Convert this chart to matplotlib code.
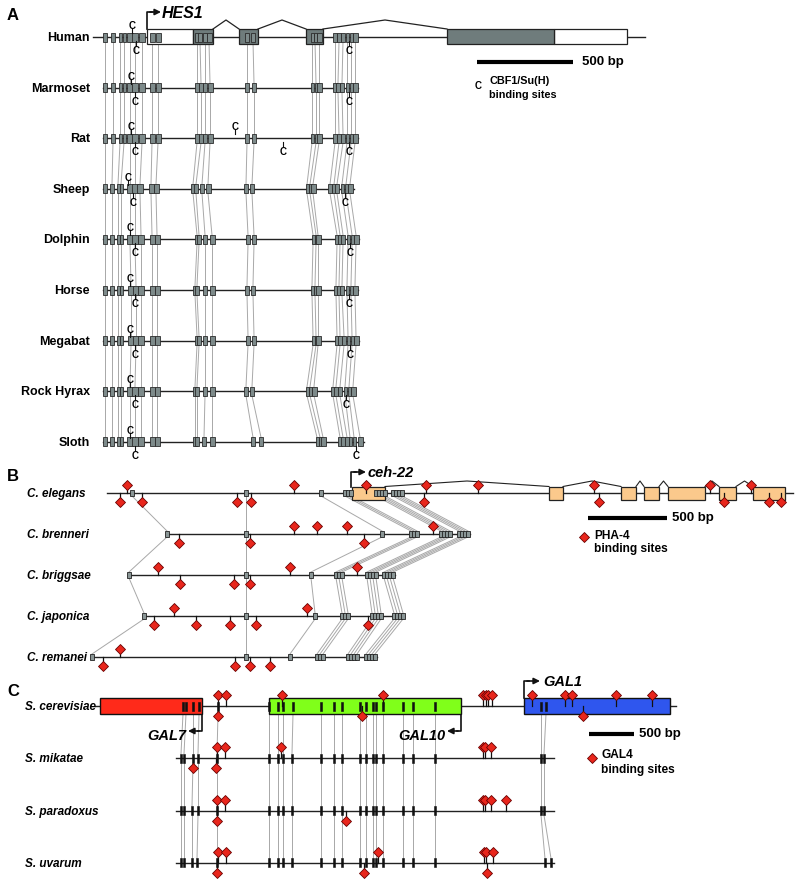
import matplotlib
matplotlib.use('Agg')
import matplotlib.pyplot as plt
from matplotlib.patches import Rectangle

plt.rcParams['font.family'] = ['Liberation Sans', 'DejaVu Sans']

# ---------------- Panel A: HES1 (x in figure units) ----------------
a_species = ['Human', 'Marmoset', 'Rat', 'Sheep', 'Dolphin', 'Horse',
             'Megabat', 'Rock Hyrax', 'Sloth']
a_elements = [
    [105, 113, 120, 124, 130, 135, 142, 152, 158, 197, 200, 205, 209, 247, 253, 312, 315, 319, 335, 339, 343, 347, 351, 355],
    [105, 113, 120, 124, 130, 135, 142, 152, 158, 197, 201, 205, 210, 247, 254, 312, 316, 319, 335, 338, 342, 347, 351, 355],
    [105, 113, 120, 124, 130, 135, 142, 152, 158, 197, 201, 205, 210, 247, 254, 312, 316, 319, 335, 339, 343, 347, 351, 355],
    [105, 112, 118, 121, 130, 135, 140, 151, 156, 193, 196, 202, 208, 246, 252, 307, 310, 313, 330, 334, 337, 342, 346, 350],
    [105, 112, 118, 121, 130, 135, 141, 152, 157, 197, 199, 205, 212, 248, 254, 313, 316, 318, 337, 340, 343, 348, 352, 356],
    [105, 112, 118, 121, 131, 136, 141, 152, 157, 195, 197, 205, 212, 247, 253, 312, 315, 318, 336, 339, 342, 347, 351, 355],
    [105, 112, 118, 121, 131, 136, 141, 152, 157, 197, 199, 205, 212, 248, 254, 313, 316, 318, 337, 340, 344, 348, 352, 356],
    [105, 112, 118, 121, 130, 135, 141, 152, 157, 195, 197, 205, 212, 246, 252, 307, 310, 314, 333, 336, 340, 345, 349, 353],
    [105, 112, 118, 121, 130, 135, 141, 152, 157, 195, 197, 204, 212, 253, 261, 317, 320, 323, 340, 343, 347, 350, 354, 360],
]
a_elem_w = [4, 4, 3, 3, 6, 6, 6, 5, 5, 4, 4, 4, 5, 4, 4, 3, 3, 5, 4, 4, 4, 3, 3, 5]
a_line = [(93, 645), (103, 358), (103, 358), (103, 354), (103, 359),
          (103, 358), (103, 359), (103, 355), (103, 364)]
a_site_up = [[132], [131], [131, 235], [128], [130], [130], [130], [130], [130]]
a_site_down = [[136, 349], [135, 349], [135, 283, 349], [133, 345], [135, 350],
               [135, 349], [135, 350], [135, 346], [135, 356]]
hes1_utr = [(147, 193), (554, 627)]
hes1_exons = [(193, 213), (239, 258), (306, 323), (447, 554)]

# ---------------- Panel B: ceh-22 ----------------
b_species = ['C. elegans', 'C. brenneri', 'C. briggsae', 'C. japonica', 'C. remanei']
b_elements = [
    [132, 246, 321, 345, 348, 351, 376, 379, 382, 385, 393, 396, 399, 402],
    [167, 246, 382, 411, 414, 417, 441, 444, 447, 450, 459, 462, 465, 468],
    [129, 246, 311, 336, 339, 342, 367, 370, 373, 376, 384, 387, 390, 393],
    [144, 246, 315, 342, 345, 348, 372, 375, 378, 381, 394, 397, 400, 403],
    [92, 246, 290, 317, 320, 323, 348, 351, 354, 357, 366, 369, 372, 375],
]
b_line = [(107, 793), (167, 470), (129, 395), (144, 404), (92, 377)]
b_site_up = [[127, 294, 366, 426, 478, 594, 710, 751], [294, 317, 347, 433],
             [158, 290, 357], [174, 307], [120]]
b_site_down = [[120, 142, 237, 251, 424, 599, 724, 769, 781], [179, 250, 364],
               [180, 234, 250], [154, 196, 230, 256, 368], [103, 235, 250, 270]]
ceh22_exons = [(352, 385), (549, 563), (621, 636), (644, 659), (668, 705),
               (719, 736), (753, 785)]

# ---------------- Panel C: GAL7-GAL10-GAL1 ----------------
c_species = ['S. cerevisiae', 'S. mikatae', 'S. paradoxus', 'S. uvarum']
c_elements = [
    [183, 186, 193, 199, 218, 269, 278, 283, 293, 321, 334, 342, 360, 366, 373, 376, 383, 403, 413, 435, 541, 546],
    [181, 184, 193, 198, 217, 269, 278, 283, 292, 321, 334, 342, 360, 366, 373, 376, 383, 403, 413, 435, 541, 544],
    [181, 184, 192, 198, 217, 269, 278, 283, 292, 321, 334, 342, 360, 366, 373, 376, 383, 403, 413, 435, 541, 544],
    [181, 184, 192, 197, 217, 269, 278, 283, 292, 321, 334, 342, 360, 366, 373, 376, 383, 403, 413, 435, 545, 551],
]
c_line = [(95, 676), (176, 554), (176, 554), (176, 554)]
c_site_up = [[218, 226, 282, 383, 483, 486, 488, 492, 532, 565, 572, 616, 652],
             [217, 225, 281, 483, 485, 491], [217, 225, 483, 485, 491, 506],
             [218, 226, 378, 484, 486, 493]]
c_site_down = [[218, 362, 583], [193, 216], [217, 346], [217, 364, 487]]
gal_genes = ['GAL7', 'GAL10', 'GAL1']
gal_spans = [(100, 202), (269, 461), (524, 670)]
gal_colors = ['#ff2a1a', '#80ff1a', '#2f56ee']

GREY_LINK = '#a8a8a8'
RED = '#e8261c'


def connect(ax, xs1, y1, xs2, y2):
    for a, b in zip(xs1, xs2):
        ax.plot([a, b], [y1, y2], color=GREY_LINK, lw=0.7, zorder=1)


def diamonds(ax, xs, y, yc, ms):
    for x in xs:
        ax.plot([x, x], [y, yc], color='#111111', lw=0.9, zorder=5)
    ax.plot(xs, [yc] * len(xs), 'D', ms=ms, mfc=RED, mec='#6a0000',
            mew=0.6, zorder=6, ls='none')


fig = plt.figure(figsize=(8, 8.87), dpi=100)
ax = fig.add_axes([0, 0, 1, 1])
ax.set_xlim(0, 800)
ax.set_ylim(887, 0)
ax.axis('off')

# ===== Panel A =====
ay = [38 + i * 50.6 for i in range(len(a_species))]
ax.text(7, 15, 'A', fontsize=12, fontweight='bold', va='center')
for i, (name, y) in enumerate(zip(a_species, ay)):
    ax.text(90, y, name, ha='right', va='center', fontsize=9, fontweight='bold')
    x0, x1 = a_line[i]
    ax.plot([x0, x1], [y, y], color='#222222', lw=1.0, zorder=2)
    for x, w in zip(a_elements[i], a_elem_w):
        ax.add_patch(Rectangle((x - w / 2, y - 4.5), w, 9, fc='#7d8a8a',
                               ec='#2b2b2b', lw=0.6, zorder=4))
    if i + 1 < len(a_species):
        connect(ax, a_elements[i], y + 4.5, a_elements[i + 1], ay[i + 1] - 4.5)
    for x in a_site_up[i]:
        ax.plot([x, x], [y - 4, y - 8], color='#111111', lw=0.8, zorder=5)
        ax.text(x, y - 12, 'C', ha='center', va='center', fontsize=7,
                fontweight='bold', zorder=6)
    for x in a_site_down[i]:
        ax.plot([x, x], [y + 4, y + 8], color='#111111', lw=0.8, zorder=5)
        ax.text(x, y + 13, 'C', ha='center', va='center', fontsize=7,
                fontweight='bold', zorder=6)

# human gene model
hy = ay[0]
for s, e in hes1_utr:
    ax.add_patch(Rectangle((s, hy - 8), e - s, 15, fc='white', ec='#222222',
                           lw=0.9, zorder=3))
for s, e in hes1_exons:
    ax.add_patch(Rectangle((s, hy - 8), e - s, 15, fc='#6f7c7c', ec='#222222',
                           lw=0.9, zorder=3))
for (s0, e0), (s1, e1) in zip(hes1_exons[:-1], hes1_exons[1:]):
    ax.plot([e0, (e0 + s1) / 2, s1], [hy - 8, hy - 17, hy - 8],
            color='#222222', lw=0.9, zorder=3)
ax.plot([147, 147, 152], [hy - 8, 13, 13], color='#111111', lw=1.2)
ax.annotate('', xy=(161, 13), xytext=(150, 13),
            arrowprops=dict(arrowstyle='-|>', color='#111111', lw=1.2,
                            mutation_scale=9, shrinkA=0, shrinkB=0))
ax.text(162, 13, 'HES1', fontsize=11.5, fontweight='bold', style='italic',
        va='center')
ax.plot([477, 573], [63, 63], color='black', lw=3, solid_capstyle='butt')
ax.text(582, 62, '500 bp', fontsize=9.5, fontweight='bold', va='center')
ax.text(478, 86, 'C', fontsize=7, fontweight='bold', ha='center', va='center')
ax.text(489, 81, 'CBF1/Su(H)', fontsize=7.8, fontweight='bold', va='center')
ax.text(489, 95, 'binding sites', fontsize=7.8, fontweight='bold', va='center')

# ===== Panel B =====
by = [494 + i * 41 for i in range(len(b_species))]
ax.text(7, 477, 'B', fontsize=12, fontweight='bold', va='center')
ey = by[0]
for s, e in ceh22_exons:
    ax.add_patch(Rectangle((s, ey - 6.5), e - s, 13, fc='#fbc98c',
                           ec='#222222', lw=0.9, zorder=3))
for (s0, e0), (s1, e1) in zip(ceh22_exons[:-1], ceh22_exons[1:]):
    ax.plot([e0, (e0 + s1) / 2, s1], [ey - 6.5, ey - 12, ey - 6.5],
            color='#222222', lw=0.8, zorder=3)
for i, (name, y) in enumerate(zip(b_species, by)):
    ax.text(27, y, name, ha='left', va='center', fontsize=8.5,
            fontweight='bold', style='italic')
    x0, x1 = b_line[i]
    ax.plot([x0, x1], [y, y], color='#222222', lw=1.0, zorder=2)
    for x in b_elements[i]:
        ax.add_patch(Rectangle((x - 1.8, y - 3), 3.6, 6, fc='#8a9696',
                               ec='#222222', lw=0.6, zorder=4))
    if i + 1 < len(b_species):
        connect(ax, b_elements[i], y + 3, b_elements[i + 1], by[i + 1] - 3)
    diamonds(ax, b_site_up[i], y, y - 8, 4.6)
    diamonds(ax, b_site_down[i], y, y + 9, 4.6)
ax.plot([351, 351, 356], [ey - 6.5, 473, 473], color='#111111', lw=1.2)
ax.annotate('', xy=(366, 473), xytext=(354, 473),
            arrowprops=dict(arrowstyle='-|>', color='#111111', lw=1.2,
                            mutation_scale=9, shrinkA=0, shrinkB=0))
ax.text(368, 473, 'ceh-22', fontsize=10.5, fontweight='bold', style='italic',
        va='center')
ax.plot([588, 667], [519, 519], color='black', lw=3, solid_capstyle='butt')
ax.text(672, 518, '500 bp', fontsize=9.5, fontweight='bold', va='center')
ax.plot([584], [538], 'D', ms=4.6, mfc=RED, mec='#6a0000', mew=0.6)
ax.text(594, 536, 'PHA-4', fontsize=8.6, fontweight='bold', va='center')
ax.text(594, 549, 'binding sites', fontsize=8.6, fontweight='bold', va='center')

# ===== Panel C =====
cy = [707 + i * 52.3 for i in range(len(c_species))]
ax.text(7, 692, 'C', fontsize=12, fontweight='bold', va='center')
gy = cy[0]
for (s, e), col in zip(gal_spans, gal_colors):
    ax.add_patch(Rectangle((s, gy - 8), e - s, 16, fc=col, ec='#111111',
                           lw=1.0, zorder=3))
for i, (name, y) in enumerate(zip(c_species, cy)):
    ax.text(25, y, name, ha='left', va='center', fontsize=8.5,
            fontweight='bold', style='italic')
    x0, x1 = c_line[i]
    ax.plot([x0, x1], [y, y], color='#222222', lw=1.0, zorder=2)
    for x in c_elements[i]:
        ax.add_patch(Rectangle((x - 1.1, y - 4.5), 2.2, 9, fc='#111111',
                               ec='#111111', lw=0.4, zorder=4))
    if i + 1 < len(c_species):
        top = y + (8 if i == 0 else 4.5)
        connect(ax, c_elements[i], top, c_elements[i + 1], cy[i + 1] - 4.5)
    diamonds(ax, c_site_up[i], y, y - 11, 5.3)
    diamonds(ax, c_site_down[i], y, y + 10, 5.3)

# GAL7 / GAL10 (reverse strand) and GAL1 arrows
for gene, (s, e) in zip(gal_genes[:2], gal_spans[:2]):
    ax.plot([e, e, e - 4], [gy + 8, 732, 732], color='#111111', lw=1.2)
    ax.annotate('', xy=(e - 14, 732), xytext=(e - 3, 732),
                arrowprops=dict(arrowstyle='-|>', color='#111111', lw=1.2,
                                mutation_scale=9, shrinkA=0, shrinkB=0))
    ax.text(e - 16, 736, gene, ha='right', va='center', fontsize=10.5,
            fontweight='bold', style='italic')
s1 = gal_spans[2][0]
ax.plot([s1, s1, s1 + 5], [gy - 8, 682, 682], color='#111111', lw=1.2)
ax.annotate('', xy=(s1 + 16, 682), xytext=(s1 + 3, 682),
            arrowprops=dict(arrowstyle='-|>', color='#111111', lw=1.2,
                            mutation_scale=9, shrinkA=0, shrinkB=0))
ax.text(s1 + 19, 682, gal_genes[2], fontsize=10.5, fontweight='bold',
        style='italic', va='center')
ax.plot([589, 634], [735, 735], color='black', lw=3, solid_capstyle='butt')
ax.text(639, 734, '500 bp', fontsize=9.5, fontweight='bold', va='center')
ax.plot([592], [759], 'D', ms=5.3, mfc=RED, mec='#6a0000', mew=0.6)
ax.text(601, 755, 'GAL4', fontsize=8.6, fontweight='bold', va='center')
ax.text(601, 770, 'binding sites', fontsize=8.6, fontweight='bold', va='center')

fig.savefig('out.png', dpi=100)
